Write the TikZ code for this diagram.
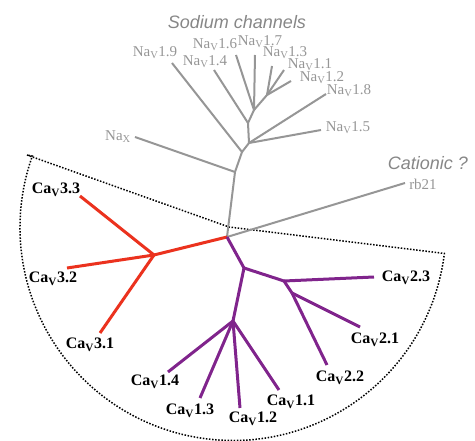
\documentclass[tikz,border=0pt]{standalone}
\usepackage{fontspec}
\setmainfont{Liberation Serif}
\newfontfamily\groupfont{Liberation Sans}
\usepackage{tikz}
\usepackage{xcolor}
\definecolor{nagray}{RGB}{150,150,150}
\definecolor{cavred}{RGB}{235,50,30}
\definecolor{cavpurple}{RGB}{128,36,140}

\newcommand{\nav}[1]{Na\textsubscript{V}#1}
\newcommand{\cav}[1]{Ca\textsubscript{V}#1}

\begin{document}
\begin{tikzpicture}[x=1pt, y=-1pt,
    naline/.style={nagray, line width=2pt, line join=round},
    redline/.style={cavred, line width=3pt, line join=round},
    purpleline/.style={cavpurple, line width=3pt, line join=round},
    nalabel/.style={text=nagray, inner sep=0pt, font=\fontsize{15}{15}\selectfont},
    calabel/.style={inner sep=0pt, font=\fontsize{16}{16}\selectfont\bfseries},
    grouplabel/.style={text=nagray!90!black, inner sep=0pt, font=\groupfont\itshape\fontsize{18}{18}\selectfont},
    boundary/.style={black, line width=1.5pt, dash pattern=on 1.5pt off 1.6pt}]
    \useasboundingbox (0,0) rectangle (475,441);

    % calcium channel group
    \coordinate (vtx) at (229,227);
    \draw[boundary] (27,155) -- (vtx) -- ++(7:217) arc[start angle=7, end angle=199.6, radius=213] -- cycle;

    % junctions
    \coordinate (root) at (227,237);
    \coordinate (n1) at (235,172);
    \coordinate (n2) at (242,152);
    \coordinate (n3) at (249,143);
    \coordinate (n4) at (248,123);
    \coordinate (n5) at (254,110);
    \coordinate (n6) at (267,95);
    \coordinate (r1) at (154,255);
    \coordinate (p1) at (244,268);
    \coordinate (p2) at (284,281);
    \coordinate (p3) at (292,293);
    \coordinate (p4) at (233,321);

    % sodium channels
    \node[grouplabel] (sodium) at (237,22) {Sodium channels};
    \node[nalabel] (lnax) at (118,137) {Na\textsubscript{X}};
    \node[nalabel] (l19) at (155,53) {\nav{1.9}};
    \node[nalabel] (l14) at (205,62) {\nav{1.4}};
    \node[nalabel] (l16) at (215,45) {\nav{1.6}};
    \node[nalabel] (l17) at (260,42) {\nav{1.7}};
    \node[nalabel] (l13) at (285,53) {\nav{1.3}};
    \node[nalabel] (l11) at (310,65) {\nav{1.1}};
    \node[nalabel] (l12) at (322,78) {\nav{1.2}};
    \node[nalabel] (l18) at (349,91) {\nav{1.8}};
    \node[nalabel] (l15) at (348,128) {\nav{1.5}};
    \coordinate (nax) at (135,137);
    \coordinate (na19) at (172,63);
    \coordinate (na14) at (214,70);
    \coordinate (na16) at (236,55);
    \coordinate (na17) at (255,55);
    \coordinate (na13) at (272,66);
    \coordinate (na11) at (284,70);
    \coordinate (na12) at (291,81);
    \coordinate (na18) at (326,94);
    \coordinate (na15) at (321,130);
    \draw[naline] (root) -- (n1) -- (n2) -- (n3) -- (n4) -- (n5) -- (n6);
    \draw[naline] (n1) -- (nax);
    \draw[naline] (n2) -- (na19);
    \draw[naline] (n3) -- (na18);
    \draw[naline] (n3) -- (na15);
    \draw[naline] (n4) -- (na14);
    \draw[naline] (n5) -- (na16);
    \draw[naline] (n5) -- (na17);
    \draw[naline] (n6) -- (na13);
    \draw[naline] (n6) -- (na11);
    \draw[naline] (n6) -- (na12);

    % cationic ?
    \node[grouplabel] (cationic) at (428,163) {Cationic ?};
    \node[nalabel] (lrb) at (423,184) {rb21};
    \coordinate (rb21) at (405,183);
    \draw[naline] (root) -- (rb21);

    % Cav3 branch
    \node[calabel] (l33) at (56,190) {\cav{3.3}};
    \node[calabel] (l32) at (53,279) {\cav{3.2}};
    \node[calabel] (l31) at (90,345) {\cav{3.1}};
    \coordinate (ca33) at (80,196);
    \coordinate (ca32) at (67,268);
    \coordinate (ca31) at (100,333);
    \draw[redline] (root) -- (r1);
    \draw[redline] (r1) -- (ca33);
    \draw[redline] (r1) -- (ca32);
    \draw[redline] (r1) -- (ca31);

    % Cav1 and Cav2 branches
    \node[calabel] (l23) at (406,278) {\cav{2.3}};
    \node[calabel] (l21) at (375,340) {\cav{2.1}};
    \node[calabel] (l22) at (340,378) {\cav{2.2}};
    \node[calabel] (l14c) at (155,382) {\cav{1.4}};
    \node[calabel] (l13c) at (190,411) {\cav{1.3}};
    \node[calabel] (l12c) at (253,419) {\cav{1.2}};
    \node[calabel] (l11c) at (291,402) {\cav{1.1}};
    \coordinate (ca23) at (374,277);
    \coordinate (ca21) at (360,327);
    \coordinate (ca22) at (327,365);
    \coordinate (ca14) at (168,372);
    \coordinate (ca13) at (200,398);
    \coordinate (ca12) at (240,408);
    \coordinate (ca11) at (279,390);
    \draw[purpleline] (root) -- (p1) -- (p2) -- (p3);
    \draw[purpleline] (p2) -- (ca23);
    \draw[purpleline] (p3) -- (ca21);
    \draw[purpleline] (p3) -- (ca22);
    \draw[purpleline] (p1) -- (p4);
    \draw[purpleline] (p4) -- (ca14);
    \draw[purpleline] (p4) -- (ca13);
    \draw[purpleline] (p4) -- (ca12);
    \draw[purpleline] (p4) -- (ca11);
\end{tikzpicture}
\end{document}
